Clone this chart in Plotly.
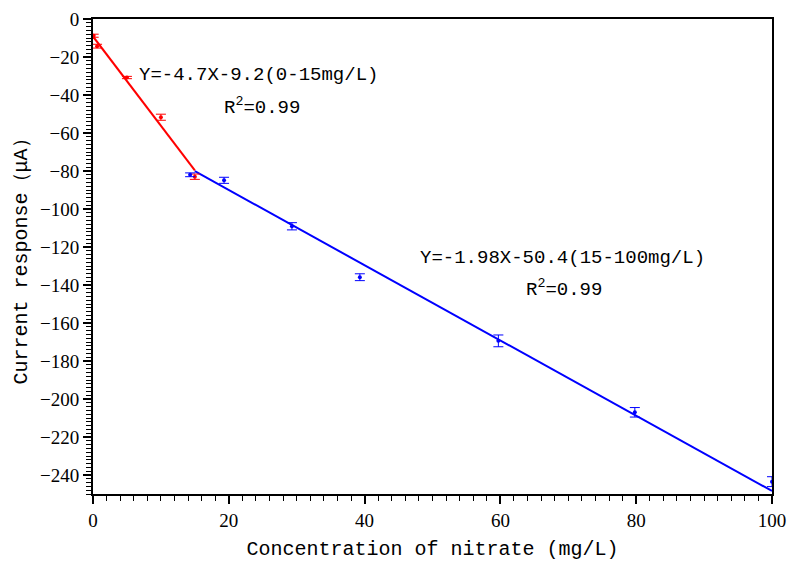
import plotly.graph_objects as go

# Low-concentration series (red) and high-concentration series (blue)
red_conc = [0.1, 0.6, 5, 10, 15]
red_resp = [-8.8, -14.3, -30.8, -51.7, -83.0]
red_err = [0.8, 1.0, 0.6, 1.6, 1.4]

blue_conc = [14.3, 19.3, 29.3, 39.3, 59.7, 79.8, 100]
blue_resp = [-82.0, -84.9, -109.1, -135.9, -169.4, -207.0, -243.5]
blue_err = [1.0, 1.6, 1.9, 1.8, 3.1, 2.5, 2.6]

# Linear fits: slope, intercept, fitted range
red_fit = dict(slope=-4.7, intercept=-9.2, xr=[0, 15])
blue_fit = dict(slope=-1.98, intercept=-50.4, xr=[15, 100])

x_ticks = [0, 20, 40, 60, 80, 100]
y_ticks = [0, -20, -40, -60, -80, -100, -120, -140, -160, -180, -200, -220, -240]

RED = "#ff0000"
BLUE = "#0000ff"
TXT_FONT = "Liberation Mono, monospace"
NUM_FONT = "Liberation Serif, serif"


def fit_line(f):
    xs = f["xr"]
    return xs, [f["slope"] * x + f["intercept"] for x in xs]


fig = go.Figure()

for fit, col in ((red_fit, RED), (blue_fit, BLUE)):
    fx, fy = fit_line(fit)
    fig.add_trace(go.Scatter(x=fx, y=fy, mode="lines",
                             line=dict(color=col, width=2), hoverinfo="skip"))

for xs, ys, es, col in ((red_conc, red_resp, red_err, RED),
                        (blue_conc, blue_resp, blue_err, BLUE)):
    fig.add_trace(go.Scatter(
        x=xs, y=ys, mode="markers",
        marker=dict(color=col, size=4, symbol="circle"),
        error_y=dict(type="data", array=es, visible=True,
                     color=col, thickness=1, width=5),
    ))

axis_common = dict(
    showline=True, linecolor="black", linewidth=2, mirror=True,
    showgrid=False, zeroline=False, automargin=False,
    ticks="outside", ticklen=8, tickwidth=1.5, tickcolor="black",
    minor=dict(ticks="outside", ticklen=5, tickwidth=1, tickcolor="black", dtick=2),
    tickfont=dict(family=NUM_FONT, size=19, color="black"),
)

fig.update_xaxes(
    range=[0, 100], tickvals=x_ticks, **axis_common,
    title=dict(text="Concentration of nitrate (mg/L)",
               font=dict(family=TXT_FONT, size=20, color="black"), standoff=11),
)
fig.update_yaxes(
    range=[-250, 0], tickvals=y_ticks, **axis_common,
    title=dict(text="Current response（μA）",
               font=dict(family=TXT_FONT, size=20, color="black"), standoff=7),
)

ann_font = dict(family=TXT_FONT, size=19, color="black")
fig.add_annotation(x=24.4, y=-29.5, text="Y=-4.7X-9.2(0-15mg/L)",
                   showarrow=False, font=ann_font)
fig.add_annotation(x=24.9, y=-45.8, text="R<sup>2</sup>=0.99",
                   showarrow=False, font=ann_font)
fig.add_annotation(x=69.2, y=-125.8, text="Y=-1.98X-50.4(15-100mg/L)",
                   showarrow=False, font=ann_font)
fig.add_annotation(x=69.4, y=-142.1, text="R<sup>2</sup>=0.99",
                   showarrow=False, font=ann_font)

fig.update_layout(
    width=788, height=561,
    margin=dict(l=93, r=16, t=19, b=67),
    plot_bgcolor="white", paper_bgcolor="white",
    showlegend=False,
)

fig.write_html("out.html")
